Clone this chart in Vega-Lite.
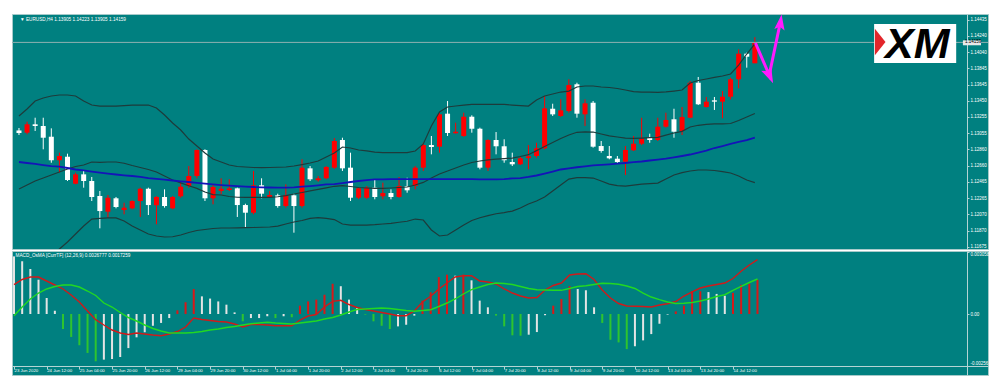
{
"$schema":"https://vega.github.io/schema/vega-lite/v6.json",
"background":"#ffffff",
"padding":{"left":11,"top":13,"right":13,"bottom":17},
"spacing":0,
"config":{"view":{"fill":"#008080","stroke":"#a6caca","strokeWidth":1},"text":{"font":"Liberation Sans"},"axis":{"labelFont":"Liberation Sans","grid":false,"title":null,"labelOverlap":false,"labelFlush":false,"labelBound":false}},
"resolve":{"scale":{"x":"independent","y":"independent"}},
"datasets":{"k":[
{"i":0,"o":1.13089,"h":1.13119,"l":1.13034,"c":1.13058,"u":1.13265,"m":1.12378,"lo":1.11491,"ma":1.12706,"hs":0.00284,"hc":"w","r":0.001444,"g":-0.000084},
{"i":1,"o":1.13062,"h":1.13196,"l":1.13042,"c":1.13164,"u":1.13350,"m":1.12426,"lo":1.11503,"ma":1.12694,"hs":0.0026,"hc":"w","r":0.001701,"g":0.000345},
{"i":2,"o":1.13164,"h":1.13244,"l":1.13083,"c":1.13143,"u":1.13447,"m":1.12475,"lo":1.11503,"ma":1.12682,"hs":0.00222,"hc":"w","r":0.001824,"g":0.00074},
{"i":3,"o":1.13143,"h":1.13244,"l":1.12860,"c":1.13001,"u":1.13483,"m":1.12511,"lo":1.11540,"ma":1.12669,"hs":0.00169,"hc":"w","r":0.001824,"g":0.001035},
{"i":4,"o":1.13013,"h":1.13115,"l":1.12697,"c":1.12727,"u":1.13508,"m":1.12548,"lo":1.11588,"ma":1.12657,"hs":0.00079,"hc":"w","r":0.001627,"g":0.001233},
{"i":5,"o":1.12727,"h":1.12819,"l":1.12576,"c":1.12779,"u":1.13520,"m":1.12584,"lo":1.11649,"ma":1.12651,"hs":0.00016,"hc":"w","r":0.00143,"g":0.001356},
{"i":6,"o":1.12770,"h":1.12807,"l":1.12475,"c":1.12487,"u":1.13520,"m":1.12621,"lo":1.11734,"ma":1.12633,"hs":-0.00074,"hc":"g","r":0.001233,"g":0.00143},
{"i":7,"o":1.12442,"h":1.12576,"l":1.12435,"c":1.12556,"u":1.13508,"m":1.12651,"lo":1.11831,"ma":1.12615,"hs":-0.00113,"hc":"g","r":0.000937,"g":0.00143},
{"i":8,"o":1.12556,"h":1.12597,"l":1.12394,"c":1.12475,"u":1.13447,"m":1.12669,"lo":1.11928,"ma":1.12603,"hs":-0.00154,"hc":"g","r":0.000592,"g":0.001331},
{"i":9,"o":1.12475,"h":1.12524,"l":1.12232,"c":1.12281,"u":1.13398,"m":1.12706,"lo":1.12013,"ma":1.12590,"hs":-0.00192,"hc":"g","r":0.000148,"g":0.001134},
{"i":10,"o":1.12293,"h":1.12354,"l":1.11900,"c":1.12110,"u":1.13386,"m":1.12702,"lo":1.12020,"ma":1.12578,"hs":-0.00233,"hc":"g","r":-0.000281,"g":0.000912},
{"i":11,"o":1.12102,"h":1.12305,"l":1.12029,"c":1.12272,"u":1.13386,"m":1.12706,"lo":1.12026,"ma":1.12566,"hs":-0.00225,"hc":"w","r":-0.000542,"g":0.000542},
{"i":12,"o":1.12265,"h":1.12281,"l":1.12143,"c":1.12159,"u":1.13386,"m":1.12706,"lo":1.12026,"ma":1.12554,"hs":-0.00222,"hc":"w","r":-0.000789,"g":0.000345},
{"i":13,"o":1.12123,"h":1.12211,"l":1.12070,"c":1.12151,"u":1.13392,"m":1.12691,"lo":1.11989,"ma":1.12544,"hs":-0.00212,"hc":"w","r":-0.000937,"g":0.000074},
{"i":14,"o":1.12143,"h":1.12241,"l":1.12131,"c":1.12232,"u":1.13398,"m":1.12663,"lo":1.11928,"ma":1.12536,"hs":-0.00168,"hc":"w","r":-0.001011,"g":-0.000173},
{"i":15,"o":1.12232,"h":1.12394,"l":1.12038,"c":1.12381,"u":1.13398,"m":1.12639,"lo":1.11880,"ma":1.12524,"hs":-0.00115,"hc":"w","r":-0.000937,"g":-0.000345},
{"i":16,"o":1.12381,"h":1.12394,"l":1.12062,"c":1.12183,"u":1.13398,"m":1.12615,"lo":1.11831,"ma":1.12511,"hs":-0.0009,"hc":"w","r":-0.000986,"g":-0.000542},
{"i":17,"o":1.12180,"h":1.12293,"l":1.11949,"c":1.12281,"u":1.13362,"m":1.12584,"lo":1.11807,"ma":1.12502,"hs":-0.00058,"hc":"w","r":-0.001035,"g":-0.000715},
{"i":18,"o":1.12281,"h":1.12374,"l":1.12151,"c":1.12171,"u":1.13277,"m":1.12536,"lo":1.11795,"ma":1.12492,"hs":-0.00044,"hc":"w","r":-0.00107,"g":-0.000838},
{"i":19,"o":1.12143,"h":1.12293,"l":1.12131,"c":1.12281,"u":1.13180,"m":1.12488,"lo":1.11798,"ma":1.12481,"hs":-0.0002,"hc":"w","r":-0.000986,"g":-0.000937},
{"i":20,"o":1.12289,"h":1.12475,"l":1.12272,"c":1.12406,"u":1.13095,"m":1.12452,"lo":1.11819,"ma":1.12471,"hs":0.00018,"hc":"r","r":-0.000863,"g":-0.000937},
{"i":21,"o":1.12414,"h":1.12657,"l":1.12394,"c":1.12536,"u":1.12985,"m":1.12417,"lo":1.11849,"ma":1.12463,"hs":0.00058,"hc":"r","r":-0.000641,"g":-0.000937},
{"i":22,"o":1.12536,"h":1.12860,"l":1.12508,"c":1.12852,"u":1.12900,"m":1.12386,"lo":1.11874,"ma":1.12453,"hs":0.00123,"hc":"r","r":-0.000197,"g":-0.000912},
{"i":23,"o":1.12852,"h":1.12860,"l":1.12232,"c":1.12265,"u":1.12815,"m":1.12341,"lo":1.11886,"ma":1.12444,"hs":0.00087,"hc":"w","r":-0.000271,"g":-0.000863},
{"i":24,"o":1.12265,"h":1.12435,"l":1.12192,"c":1.12402,"u":1.12742,"m":1.12310,"lo":1.11898,"ma":1.12435,"hs":0.00076,"hc":"w","r":-0.00032,"g":-0.000789},
{"i":25,"o":1.12354,"h":1.12508,"l":1.12313,"c":1.12381,"u":1.12706,"m":1.12305,"lo":1.11904,"ma":1.12426,"hs":0.00062,"hc":"w","r":-0.00037,"g":-0.00074},
{"i":26,"o":1.12366,"h":1.12496,"l":1.12354,"c":1.12386,"u":1.12669,"m":1.12287,"lo":1.11904,"ma":1.12418,"hs":0.00046,"hc":"w","r":-0.000394,"g":-0.000666},
{"i":27,"o":1.12386,"h":1.12394,"l":1.12038,"c":1.12183,"u":1.12651,"m":1.12278,"lo":1.11906,"ma":1.12412,"hs":0.00008,"hc":"w","r":-0.000493,"g":-0.000616},
{"i":28,"o":1.12183,"h":1.12199,"l":1.11908,"c":1.12090,"u":1.12645,"m":1.12276,"lo":1.11908,"ma":1.12407,"hs":-0.00036,"hc":"g","r":-0.000641,"g":-0.000542},
{"i":29,"o":1.12090,"h":1.12597,"l":1.12070,"c":1.12423,"u":1.12639,"m":1.12275,"lo":1.11910,"ma":1.12402,"hs":-0.0002,"hc":"w","r":-0.000518,"g":-0.000478},
{"i":30,"o":1.12423,"h":1.12508,"l":1.12265,"c":1.12321,"u":1.12637,"m":1.12275,"lo":1.11913,"ma":1.12398,"hs":-0.0002,"hc":"w","r":-0.000518,"g":-0.000444},
{"i":31,"o":1.12281,"h":1.12354,"l":1.12272,"c":1.12305,"u":1.12639,"m":1.12277,"lo":1.11916,"ma":1.12396,"hs":-0.00011,"hc":"w","r":-0.000542,"g":-0.000409},
{"i":32,"o":1.12301,"h":1.12321,"l":1.12151,"c":1.12171,"u":1.12642,"m":1.12284,"lo":1.11928,"ma":1.12394,"hs":-0.0002,"hc":"g","r":-0.000577,"g":-0.000444},
{"i":33,"o":1.12171,"h":1.12435,"l":1.12151,"c":1.12305,"u":1.12645,"m":1.12298,"lo":1.11953,"ma":1.12394,"hs":-0.00011,"hc":"w","r":-0.000577,"g":-0.000468},
{"i":34,"o":1.12301,"h":1.12321,"l":1.11847,"c":1.12171,"u":1.12657,"m":1.12317,"lo":1.11977,"ma":1.12398,"hs":-0.00016,"hc":"g","r":-0.000577,"g":-0.000493},
{"i":35,"o":1.12171,"h":1.12739,"l":1.12151,"c":1.12637,"u":1.12675,"m":1.12335,"lo":1.11995,"ma":1.12406,"hs":0.00041,"hc":"r","r":-0.000296,"g":-0.000444},
{"i":36,"o":1.12629,"h":1.12657,"l":1.12475,"c":1.12496,"u":1.12694,"m":1.12356,"lo":1.12020,"ma":1.12414,"hs":0.00062,"hc":"r","r":-0.000099,"g":-0.000394},
{"i":37,"o":1.12484,"h":1.12536,"l":1.12467,"c":1.12508,"u":1.12718,"m":1.12373,"lo":1.12029,"ma":1.12423,"hs":0.00071,"hc":"r","r":-0.000025,"g":-0.000345},
{"i":38,"o":1.12508,"h":1.12657,"l":1.12496,"c":1.12645,"u":1.12767,"m":1.12392,"lo":1.12020,"ma":1.12433,"hs":0.00095,"hc":"r","r":0.000345,"g":-0.000247},
{"i":39,"o":1.12637,"h":1.12997,"l":1.12621,"c":1.12961,"u":1.12815,"m":1.12411,"lo":1.12007,"ma":1.12438,"hs":0.00149,"hc":"r","r":0.000626,"g":-0.000173},
{"i":40,"o":1.12973,"h":1.13001,"l":1.12597,"c":1.12629,"u":1.12888,"m":1.12420,"lo":1.11953,"ma":1.12450,"hs":0.00137,"hc":"w","r":0.000675,"g":-0.000049},
{"i":41,"o":1.12637,"h":1.12819,"l":1.12232,"c":1.12272,"u":1.12876,"m":1.12408,"lo":1.11940,"ma":1.12463,"hs":0.00071,"hc":"w","r":0.000468,"g":0.000099},
{"i":42,"o":1.12272,"h":1.12402,"l":1.12256,"c":1.12386,"u":1.12852,"m":1.12396,"lo":1.11940,"ma":1.12475,"hs":0.0003,"hc":"w","r":0.00032,"g":0.000222},
{"i":43,"o":1.12272,"h":1.12414,"l":1.12256,"c":1.12394,"u":1.12840,"m":1.12390,"lo":1.11940,"ma":1.12487,"hs":-0.00003,"hc":"g","r":0.000222,"g":0.000247},
{"i":44,"o":1.12394,"h":1.12496,"l":1.12253,"c":1.12281,"u":1.12827,"m":1.12386,"lo":1.11945,"ma":1.12494,"hs":-0.00036,"hc":"g","r":0.000148,"g":0.000271},
{"i":45,"o":1.12289,"h":1.12455,"l":1.12253,"c":1.12329,"u":1.12821,"m":1.12386,"lo":1.11953,"ma":1.12496,"hs":-0.00058,"hc":"g","r":0.000074,"g":0.000296},
{"i":46,"o":1.12329,"h":1.12374,"l":1.12253,"c":1.12281,"u":1.12819,"m":1.12390,"lo":1.11961,"ma":1.12497,"hs":-0.00074,"hc":"g","r":0,"g":0.000271},
{"i":47,"o":1.12281,"h":1.12524,"l":1.12272,"c":1.12414,"u":1.12819,"m":1.12396,"lo":1.11974,"ma":1.12498,"hs":-0.00061,"hc":"w","r":-0.000084,"g":0.000222},
{"i":48,"o":1.12411,"h":1.12515,"l":1.12333,"c":1.12362,"u":1.12819,"m":1.12402,"lo":1.11986,"ma":1.12499,"hs":-0.00053,"hc":"w","r":-0.000084,"g":0.000173},
{"i":49,"o":1.12414,"h":1.12657,"l":1.12374,"c":1.12637,"u":1.12840,"m":1.12426,"lo":1.12013,"ma":1.12499,"hs":-0.00008,"hc":"w","r":0.000148,"g":0.000133},
{"i":50,"o":1.12637,"h":1.12940,"l":1.12597,"c":1.12912,"u":1.12925,"m":1.12458,"lo":1.12001,"ma":1.12499,"hs":0.00066,"hc":"r","r":0.000592,"g":0.000173},
{"i":51,"o":1.12912,"h":1.13022,"l":1.12799,"c":1.12888,"u":1.13143,"m":1.12511,"lo":1.11880,"ma":1.12499,"hs":0.00107,"hc":"r","r":0.000873,"g":0.000212},
{"i":52,"o":1.12892,"h":1.13305,"l":1.12819,"c":1.13285,"u":1.13313,"m":1.12560,"lo":1.11807,"ma":1.12499,"hs":0.00182,"hc":"r","r":0.001233,"g":0.00037},
{"i":53,"o":1.13293,"h":1.13447,"l":1.13022,"c":1.13058,"u":1.13374,"m":1.12597,"lo":1.11819,"ma":1.12499,"hs":0.00194,"hc":"r","r":0.001528,"g":0.000542},
{"i":54,"o":1.13055,"h":1.13183,"l":1.13050,"c":1.13074,"u":1.13386,"m":1.12633,"lo":1.11880,"ma":1.12499,"hs":0.00189,"hc":"w","r":0.001824,"g":0.00074},
{"i":55,"o":1.13022,"h":1.13305,"l":1.13010,"c":1.13256,"u":1.13398,"m":1.12669,"lo":1.11940,"ma":1.12498,"hs":0.00194,"hc":"r","r":0.001888,"g":0.000986},
{"i":56,"o":1.13256,"h":1.13273,"l":1.13062,"c":1.13110,"u":1.13405,"m":1.12700,"lo":1.11995,"ma":1.12497,"hs":0.00166,"hc":"w","r":0.001888,"g":0.001198},
{"i":57,"o":1.13110,"h":1.13123,"l":1.12617,"c":1.12637,"u":1.13407,"m":1.12718,"lo":1.12029,"ma":1.12496,"hs":0.00066,"hc":"w","r":0.001627,"g":0.001331},
{"i":58,"o":1.12637,"h":1.12982,"l":1.12597,"c":1.12973,"u":1.13407,"m":1.12731,"lo":1.12054,"ma":1.12496,"hs":0.00033,"hc":"w","r":0.001578,"g":0.001454},
{"i":59,"o":1.12973,"h":1.13070,"l":1.12799,"c":1.12897,"u":1.13407,"m":1.12742,"lo":1.12077,"ma":1.12496,"hs":-0.00008,"hc":"g","r":0.001479,"g":0.001528},
{"i":60,"o":1.12897,"h":1.12982,"l":1.12697,"c":1.12727,"u":1.13405,"m":1.12748,"lo":1.12092,"ma":1.12499,"hs":-0.00061,"hc":"g","r":0.001233,"g":0.001504},
{"i":61,"o":1.12706,"h":1.12819,"l":1.12657,"c":1.12678,"u":1.13398,"m":1.12754,"lo":1.12110,"ma":1.12506,"hs":-0.00105,"hc":"g","r":0.001035,"g":0.001454},
{"i":62,"o":1.12678,"h":1.12779,"l":1.12669,"c":1.12751,"u":1.13392,"m":1.12773,"lo":1.12147,"ma":1.12511,"hs":-0.00107,"hc":"g","r":0.000887,"g":0.001356},
{"i":63,"o":1.12754,"h":1.12912,"l":1.12617,"c":1.12775,"u":1.13386,"m":1.12795,"lo":1.12195,"ma":1.12524,"hs":-0.00102,"hc":"w","r":0.000789,"g":0.001257},
{"i":64,"o":1.12779,"h":1.12940,"l":1.12758,"c":1.12872,"u":1.13459,"m":1.12844,"lo":1.12232,"ma":1.12542,"hs":-0.00089,"hc":"w","r":0.000813,"g":0.001198},
{"i":65,"o":1.12872,"h":1.13508,"l":1.12860,"c":1.13358,"u":1.13508,"m":1.12894,"lo":1.12281,"ma":1.12566,"hs":-0.00006,"hc":"w","r":0.001183,"g":0.001183},
{"i":66,"o":1.13353,"h":1.13414,"l":1.13265,"c":1.13285,"u":1.13532,"m":1.12942,"lo":1.12354,"ma":1.12590,"hs":0.00041,"hc":"r","r":0.001405,"g":0.001168},
{"i":67,"o":1.13265,"h":1.13468,"l":1.13253,"c":1.13334,"u":1.13556,"m":1.12991,"lo":1.12426,"ma":1.12615,"hs":0.00074,"hc":"r","r":0.001528,"g":0.001168},
{"i":68,"o":1.13325,"h":1.13711,"l":1.13305,"c":1.13641,"u":1.13568,"m":1.13034,"lo":1.12499,"ma":1.12629,"hs":0.00137,"hc":"r","r":0.001923,"g":0.001257},
{"i":69,"o":1.13650,"h":1.13669,"l":1.13244,"c":1.13293,"u":1.13617,"m":1.13067,"lo":1.12517,"ma":1.12642,"hs":0.00123,"hc":"w","r":0.001972,"g":0.001356},
{"i":70,"o":1.13285,"h":1.13468,"l":1.13143,"c":1.13419,"u":1.13629,"m":1.13073,"lo":1.12517,"ma":1.12654,"hs":0.00117,"hc":"w","r":0.001987,"g":0.001395},
{"i":71,"o":1.13426,"h":1.13447,"l":1.12880,"c":1.12892,"u":1.13629,"m":1.13070,"lo":1.12511,"ma":1.12666,"hs":0.00033,"hc":"w","r":0.001701,"g":0.001454},
{"i":72,"o":1.12900,"h":1.12961,"l":1.12819,"c":1.12840,"u":1.13617,"m":1.13046,"lo":1.12475,"ma":1.12672,"hs":-0.00044,"hc":"g","r":0.001183,"g":0.001514},
{"i":73,"o":1.12779,"h":1.12900,"l":1.12739,"c":1.12751,"u":1.13611,"m":1.13024,"lo":1.12438,"ma":1.12678,"hs":-0.00127,"hc":"g","r":0.000789,"g":0.001504},
{"i":74,"o":1.12746,"h":1.12779,"l":1.12685,"c":1.12706,"u":1.13599,"m":1.13010,"lo":1.12420,"ma":1.12685,"hs":-0.0014,"hc":"g","r":0.000518,"g":0.001464},
{"i":75,"o":1.12710,"h":1.12900,"l":1.12548,"c":1.12852,"u":1.13581,"m":1.12997,"lo":1.12414,"ma":1.12694,"hs":-0.00173,"hc":"g","r":0.000394,"g":0.00138},
{"i":76,"o":1.12848,"h":1.13022,"l":1.12840,"c":1.12928,"u":1.13562,"m":1.12994,"lo":1.12426,"ma":1.12704,"hs":-0.00159,"hc":"w","r":0.00038,"g":0.001257},
{"i":77,"o":1.12928,"h":1.13244,"l":1.12912,"c":1.12991,"u":1.13556,"m":1.12997,"lo":1.12438,"ma":1.12712,"hs":-0.0013,"hc":"w","r":0.00037,"g":0.001035},
{"i":78,"o":1.13001,"h":1.13050,"l":1.12940,"c":1.12973,"u":1.13556,"m":1.13001,"lo":1.12444,"ma":1.12724,"hs":-0.00099,"hc":"w","r":0.000345,"g":0.000838},
{"i":79,"o":1.12973,"h":1.13244,"l":1.12961,"c":1.13135,"u":1.13552,"m":1.13005,"lo":1.12450,"ma":1.12736,"hs":-0.00048,"hc":"w","r":0.000444,"g":0.000705},
{"i":80,"o":1.13135,"h":1.13305,"l":1.13123,"c":1.13216,"u":1.13557,"m":1.13032,"lo":1.12499,"ma":1.12748,"hs":-0.00003,"hc":"w","r":0.000508,"g":0.000592},
{"i":81,"o":1.13225,"h":1.13353,"l":1.13001,"c":1.13074,"u":1.13568,"m":1.13058,"lo":1.12548,"ma":1.12763,"hs":0.00013,"hc":"r","r":0.000616,"g":0.000518},
{"i":82,"o":1.13083,"h":1.13374,"l":1.13034,"c":1.13253,"u":1.13581,"m":1.13078,"lo":1.12576,"ma":1.12779,"hs":0.00041,"hc":"r","r":0.000887,"g":0.000528},
{"i":83,"o":1.13244,"h":1.13690,"l":1.13237,"c":1.13669,"u":1.13666,"m":1.13131,"lo":1.12597,"ma":1.12797,"hs":0.00112,"hc":"r","r":0.001085,"g":0.000567},
{"i":84,"o":1.13669,"h":1.13739,"l":1.13398,"c":1.13407,"u":1.13696,"m":1.13152,"lo":1.12609,"ma":1.12821,"hs":0.00112,"hc":"r","r":0.001282,"g":0.000641},
{"i":85,"o":1.13374,"h":1.13496,"l":1.13366,"c":1.13439,"u":1.13714,"m":1.13162,"lo":1.12609,"ma":1.12844,"hs":0.00108,"hc":"w","r":0.00138,"g":0.00074},
{"i":86,"o":1.13455,"h":1.13496,"l":1.13338,"c":1.13439,"u":1.13733,"m":1.13168,"lo":1.12603,"ma":1.12876,"hs":0.00099,"hc":"w","r":0.001454,"g":0.000863},
{"i":87,"o":1.13439,"h":1.13568,"l":1.13237,"c":1.13499,"u":1.13751,"m":1.13170,"lo":1.12590,"ma":1.12900,"hs":0.0009,"hc":"w","r":0.001528,"g":0.000951},
{"i":88,"o":1.13499,"h":1.13730,"l":1.13468,"c":1.13711,"u":1.13775,"m":1.13174,"lo":1.12572,"ma":1.12925,"hs":0.00104,"hc":"r","r":0.00175,"g":0.001159},
{"i":89,"o":1.13711,"h":1.14075,"l":1.13601,"c":1.14022,"u":1.13884,"m":1.13210,"lo":1.12536,"ma":1.12949,"hs":0.00144,"hc":"r","r":0.002105,"g":0.001366},
{"i":90,"o":1.14022,"h":1.14034,"l":1.13852,"c":1.13985,"u":1.14018,"m":1.13253,"lo":1.12487,"ma":1.12973,"hs":0.00149,"hc":"r","r":0.002416,"g":0.001553},
{"i":91,"o":1.13905,"h":1.14223,"l":1.13905,"c":1.14159,"u":1.14140,"m":1.13296,"lo":1.12455,"ma":1.13001,"hs":0.00169,"hc":"r","r":0.0026777,"g":0.0017259}
]},
"vconcat":[
{
"width":976,"height":235,
"data":{"name":"k"},
"layer":[
{"mark":{"type":"rule","strokeWidth":1,"clip":true},
 "encoding":{
  "x":{"field":"i","type":"quantitative","scale":{"domain":[-0.245,119.215],"nice":false,"zero":false},"axis":null},
  "y":{"field":"l","type":"quantitative","title":null,"scale":{"domain":[1.11649,1.14504],"nice":false,"zero":false},
   "axis":{"orient":"right","offset":-21,"values":[1.14435,1.1424,1.1404,1.13845,1.13645,1.1345,1.13255,1.13055,1.1286,1.1266,1.12465,1.12265,1.1207,1.1187,1.11675],"tickCount":30,"format":".5f","grid":false,"tickSize":2,"labelPadding":1,"labelFontSize":4.5,"labelColor":"#ffffff","domainColor":"#b4d4d4","tickColor":"#b4d4d4","labelFlush":false,"labelOverlap":false,"labelBound":false,"title":null}},
  "y2":{"field":"h"},
  "color":{"condition":{"test":"datum.c > datum.o","value":"#ff0000"},"value":"#ffffff"}}},
{"mark":{"type":"bar","size":5,"clip":true},
 "encoding":{
  "x":{"field":"i","type":"quantitative","axis":null},
  "y":{"field":"o","type":"quantitative","title":null},
  "y2":{"field":"c"},
  "color":{"condition":{"test":"datum.c > datum.o","value":"#ff0000"},"value":"#ffffff"}}},
{"mark":{"type":"line","color":"#1d3b3b","strokeWidth":1.2,"clip":true},
 "encoding":{"x":{"field":"i","type":"quantitative","axis":null},"y":{"field":"u","type":"quantitative","title":null}}},
{"mark":{"type":"line","color":"#1d3b3b","strokeWidth":1.2,"clip":true},
 "encoding":{"x":{"field":"i","type":"quantitative","axis":null},"y":{"field":"m","type":"quantitative","title":null}}},
{"mark":{"type":"line","color":"#1d3b3b","strokeWidth":1.2,"clip":true},
 "encoding":{"x":{"field":"i","type":"quantitative","axis":null},"y":{"field":"lo","type":"quantitative","title":null}}},
{"mark":{"type":"line","color":"#1414b8","strokeWidth":1.8,"clip":true},
 "encoding":{"x":{"field":"i","type":"quantitative","axis":null},"y":{"field":"ma","type":"quantitative","title":null}}},
{"data":{"values":[{}]},
 "mark":{"type":"rule","color":"#8fb0b0","strokeWidth":1},
 "encoding":{"y":{"datum":1.14159,"type":"quantitative","title":null}}},
{"data":{"values":[{"k":0,"ax":91.07,"ay":1.14152},{"k":1,"ax":92.78,"ay":1.13763},{"k":2,"ax":94.16,"ay":1.14407}]},
 "mark":{"type":"line","color":"#ff1aff","strokeWidth":3},
 "encoding":{
  "x":{"field":"ax","type":"quantitative","axis":null},
  "y":{"field":"ay","type":"quantitative","title":null},
  "order":{"field":"k"}}},
{"data":{"values":[{}]},
 "mark":{"type":"point","shape":"M0,-1L0.6,0.8L0,0.45L-0.6,0.8Z","filled":true,"color":"#ff1aff","opacity":1,"size":330,"angle":155},
 "encoding":{"x":{"datum":92.78,"type":"quantitative","axis":null},"y":{"datum":1.13763,"type":"quantitative","title":null}}},
{"data":{"values":[{}]},
 "mark":{"type":"point","shape":"M0,-1L0.6,0.8L0,0.45L-0.6,0.8Z","filled":true,"color":"#ff1aff","opacity":1,"size":300,"angle":8},
 "encoding":{"x":{"datum":94.16,"type":"quantitative","axis":null},"y":{"datum":1.14395,"type":"quantitative","title":null}}},
{"data":{"values":[{}]},
 "mark":{"type":"rect","color":"#ffffff"},
 "encoding":{"x":{"datum":105.75,"type":"quantitative","axis":null},"x2":{"datum":115.9},"y":{"datum":1.14383,"type":"quantitative","title":null},"y2":{"datum":1.13909}}},
{"data":{"values":[{}]},
 "mark":{"type":"point","shape":"M-0.35,-1L0.45,0L-0.35,1Z","filled":true,"color":"#e3262b","opacity":1,"size":700},
 "encoding":{"x":{"datum":106.42,"type":"quantitative","axis":null},"y":{"datum":1.14164,"type":"quantitative","title":null}}},
{"data":{"values":[{}]},
 "mark":{"type":"text","text":"XM","font":"Liberation Sans","fontSize":43,"fontWeight":"bold","fontStyle":"italic","color":"#000000","align":"left","baseline":"alphabetic"},
 "encoding":{"x":{"datum":107.1,"type":"quantitative","axis":null},"y":{"datum":1.13969,"type":"quantitative","title":null}}},
{"data":{"values":[{}]},
 "mark":{"type":"rect","color":"#e8e8e8"},
 "encoding":{"x":{"datum":116.73,"type":"quantitative","axis":null},"x2":{"datum":118.97},"y":{"datum":1.14184,"type":"quantitative","title":null},"y2":{"datum":1.14124}}},
{"data":{"values":[{}]},
 "mark":{"type":"text","text":"1.14159","fontSize":4.5,"color":"#000000","align":"left","baseline":"middle"},
 "encoding":{"x":{"datum":117.0,"type":"quantitative","axis":null},"y":{"datum":1.14159,"type":"quantitative","title":null}}},
{"data":{"values":[{}]},
 "mark":{"type":"text","text":"▼ EURUSD,H4  1.13905 1.14223 1.13905 1.14159","fontSize":4.7,"color":"#ffffff","align":"left","baseline":"middle"},
 "encoding":{"x":{"datum":0.12,"type":"quantitative","axis":null},"y":{"datum":1.14431,"type":"quantitative","title":null}}}
]},
{
"width":976,"height":124,
"data":{"name":"k"},
"layer":[
{"mark":{"type":"rule","strokeWidth":2,"clip":true},
 "encoding":{
  "x":{"field":"i","type":"quantitative","title":null,"scale":{"domain":[-0.245,119.215],"nice":false,"zero":false},
   "axis":{"orient":"bottom","offset":-9,"values":[0,4,8,12,16,20,24,28,32,36,40,44,48,52,56,60,64,68,72,76,80,84,88],"tickCount":40,
    "labelExpr":"['23 Jun 2020','24 Jun 12:00','25 Jun 04:00','25 Jun 20:00','26 Jun 12:00','29 Jun 04:00','29 Jun 20:00','30 Jun 12:00','1 Jul 04:00','1 Jul 20:00','2 Jul 12:00','3 Jul 04:00','3 Jul 20:00','6 Jul 12:00','7 Jul 04:00','7 Jul 20:00','8 Jul 12:00','9 Jul 04:00','9 Jul 20:00','10 Jul 12:00','13 Jul 04:00','13 Jul 20:00','14 Jul 12:00'][round(datum.value/4)]",
    "labelAlign":"left","labelBaseline":"top","labelPadding":-1,"tickSize":3,"grid":false,"labelFontSize":4.3,"labelColor":"#ffffff","domainColor":"#b4d4d4","tickColor":"#b4d4d4","labelFlush":false,"labelOverlap":false,"labelBound":false,"title":null}},
  "y":{"field":"hs","type":"quantitative","title":null,"scale":{"domain":[-0.003007,0.003106],"nice":false,"zero":false},
   "axis":{"orient":"right","offset":-21,"values":[0.003058,0,-0.00256],"tickCount":10,"labelExpr":"datum.value == 0 ? '0.00' : '' + datum.value","grid":false,"tickSize":2,"labelPadding":1,"labelFontSize":4.5,"labelColor":"#ffffff","domainColor":"#b4d4d4","tickColor":"#b4d4d4","labelFlush":false,"labelOverlap":false,"title":null,
    "labelBaseline":{"condition":[{"test":"datum.value > 0.001","value":"top"},{"test":"datum.value < -0.001","value":"bottom"}],"value":"middle"}}},
  "y2":{"datum":0},
  "color":{"field":"hc","type":"nominal","scale":{"domain":["w","g","r"],"range":["#e4e4e4","#2ec42e","#d81818"]},"legend":null}}},
{"mark":{"type":"line","color":"#d01a1a","strokeWidth":1.4,"clip":true},
 "encoding":{"x":{"field":"i","type":"quantitative","title":null},"y":{"field":"r","type":"quantitative","title":null}}},
{"mark":{"type":"line","color":"#22d822","strokeWidth":1.4,"clip":true},
 "encoding":{"x":{"field":"i","type":"quantitative","title":null},"y":{"field":"g","type":"quantitative","title":null}}},
{"data":{"values":[{}]},
 "mark":{"type":"text","text":"MACD_OsMA [CurrTF] (12,26,9) 0.0026777 0.0017259","fontSize":4.7,"color":"#ffffff","align":"left","baseline":"middle"},
 "encoding":{"x":{"datum":0.18,"type":"quantitative","title":null},"y":{"datum":0.002845,"type":"quantitative","title":null}}}
]}
]
}
